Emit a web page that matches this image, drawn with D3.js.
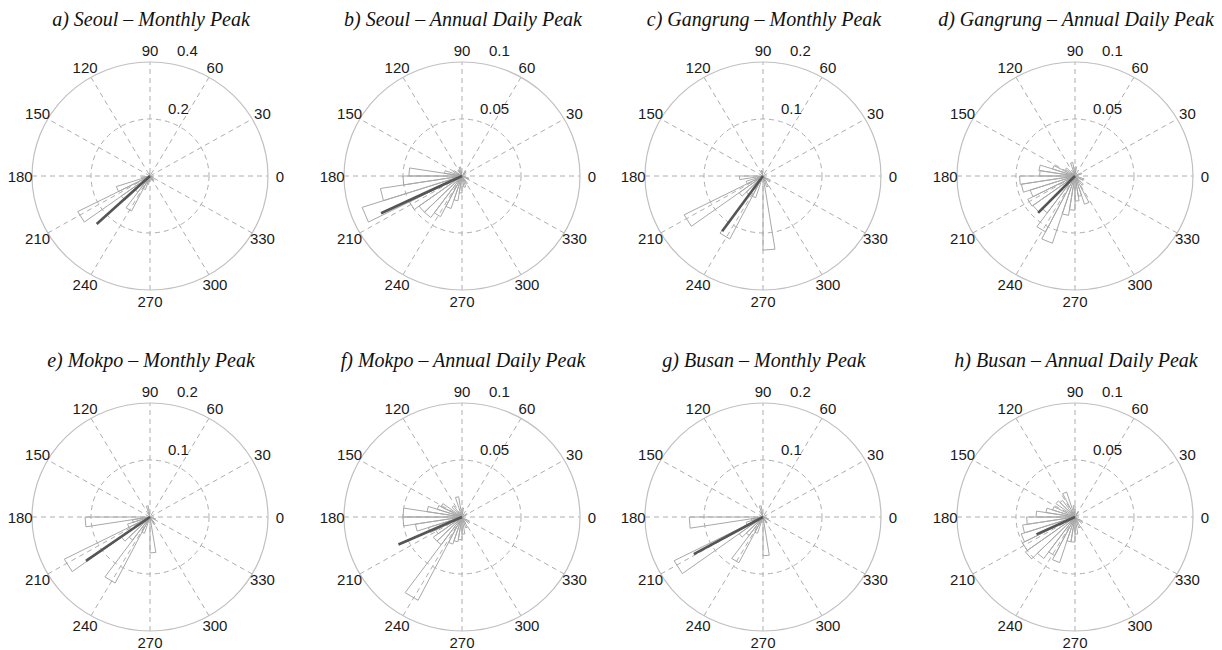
<!DOCTYPE html>
<html>
<head>
<meta charset="utf-8">
<script src="https://cdn.jsdelivr.net/npm/d3@7"></script>
<style>
  body { margin: 0; background: #fff; }
  svg { display: block; }
</style>
</head>
<body>
<script>
// Titres des 8 panneaux
const titles = [
  "a) Seoul – Monthly Peak", "b) Seoul – Annual Daily Peak",
  "c) Gangrung – Monthly Peak", "d) Gangrung – Annual Daily Peak",
  "e) Mokpo – Monthly Peak", "f) Mokpo – Annual Daily Peak",
  "g) Busan – Monthly Peak", "h) Busan – Annual Daily Peak"
]

// Graduations angulaires (degrés)
const angleTicks = [0, 30, 60, 90, 120, 150, 180, 210, 240, 270, 300, 330]

// Graduations radiales par panneau [intérieur, extérieur]
const radialTicks = [
  [0.2, 0.4], [0.05, 0.1], [0.1, 0.2], [0.05, 0.1],
  [0.1, 0.2], [0.05, 0.1], [0.1, 0.2], [0.05, 0.1]
]
const radialLabels = [
  ["0.2", "0.4"], ["0.05", "0.1"], ["0.1", "0.2"], ["0.05", "0.1"],
  ["0.1", "0.2"], ["0.05", "0.1"], ["0.1", "0.2"], ["0.05", "0.1"]
]

// Largeur des classes de la rose (degrés)
const binWidth = 9

// Fréquences par classe : [début de classe (deg), fréquence]
const seoulMonthly = [[90, 0.01], [189, 0.03], [198, 0.12], [207, 0.275], [216, 0.12], [225, 0.07],
  [234, 0.138], [243, 0.05], [252, 0.03], [261, 0.02], [288, 0.015], [306, 0.02], [333, 0.012]]
const seoulDaily = [[45, 0.005], [99, 0.008], [117, 0.006], [144, 0.008], [162, 0.015], [171, 0.045],
  [180, 0.05], [189, 0.07], [198, 0.089], [207, 0.05], [216, 0.045], [225, 0.045], [234, 0.04],
  [243, 0.03], [252, 0.022], [261, 0.015], [279, 0.01], [297, 0.008], [333, 0.006]]
const gangrungMonthly = [[99, 0.01], [180, 0.04], [198, 0.03], [207, 0.15], [216, 0.05], [225, 0.04],
  [234, 0.124], [243, 0.04], [270, 0.13], [288, 0.02], [315, 0.015]]
const gangrungDaily = [[18, 0.006], [81, 0.008], [99, 0.012], [135, 0.01], [153, 0.02], [162, 0.031],
  [171, 0.03], [180, 0.047], [189, 0.046], [198, 0.04], [207, 0.045], [216, 0.044], [225, 0.04],
  [234, 0.055], [243, 0.062], [252, 0.035], [261, 0.03], [270, 0.022], [279, 0.018], [288, 0.026],
  [306, 0.01], [333, 0.008]]
const mokpoMonthly = [[99, 0.02], [180, 0.11], [189, 0.03], [198, 0.04], [207, 0.163], [216, 0.06],
  [225, 0.05], [234, 0.13], [243, 0.03], [270, 0.063], [297, 0.015], [333, 0.01]]
const mokpoDaily = [[27, 0.005], [81, 0.008], [99, 0.018], [126, 0.012], [144, 0.02], [153, 0.022],
  [162, 0.03], [171, 0.05], [180, 0.05], [189, 0.04], [198, 0.03], [207, 0.025], [216, 0.03],
  [225, 0.03], [234, 0.082], [243, 0.025], [252, 0.022], [261, 0.02], [270, 0.015], [288, 0.01],
  [315, 0.008]]
const busanMonthly = [[99, 0.02], [180, 0.125], [189, 0.02], [198, 0.03], [207, 0.169], [216, 0.05],
  [225, 0.04], [234, 0.09], [243, 0.03], [270, 0.068], [297, 0.012], [333, 0.01]]
const busanDaily = [[54, 0.005], [90, 0.01], [108, 0.023], [126, 0.018], [135, 0.02], [153, 0.02],
  [162, 0.025], [171, 0.033], [180, 0.041], [189, 0.045], [198, 0.048], [207, 0.05], [216, 0.052],
  [225, 0.045], [234, 0.038], [243, 0.042], [252, 0.022], [261, 0.022], [270, 0.015], [288, 0.01],
  [315, 0.008]]

// Direction moyenne : [angle (deg), longueur]
const meanDirections = [[223, 0.247], [205.5, 0.076], [234.4, 0.119], [226, 0.045],
  [215.3, 0.133], [204.1, 0.059], [209, 0.134], [205, 0.036]]

const roses = [seoulMonthly, seoulDaily, gangrungMonthly, gangrungDaily,
  mokpoMonthly, mokpoDaily, busanMonthly, busanDaily]

/* ------------------------------------------------------------------------------
    GRAPH
------------------------------------------------------------------------------ */
const W = 1222, H = 650
const centersX = [150, 462, 763, 1075]
const centersY = [176, 517]
const rx = 118, ry = 114

const svg = d3.select("body").append("svg")
  .attr("width", W)
  .attr("height", H)

// Échelle des angles
const theta = d3.scaleLinear().domain([0, 360]).range([0, 2 * Math.PI])

roses.forEach((rose, i) => {
  const cx = centersX[i % 4], cy = centersY[Math.floor(i / 4)]
  const rmax = radialTicks[i][1]
  const r = d3.scaleLinear().domain([0, rmax]).range([0, 1])
  const px = (deg, v) => cx + r(v) * rx * Math.cos(theta(deg))
  const py = (deg, v) => cy - r(v) * ry * Math.sin(theta(deg))

  const g = svg.append("g")

  // Titre
  g.append("text")
    .attr("x", cx + 1)
    .attr("y", cy - 150)
    .attr("text-anchor", "middle")
    .style("font-family", "'Liberation Serif', 'Times New Roman', serif")
    .style("font-style", "italic")
    .style("font-size", "20px")
    .style("fill", "#111")
    .text(titles[i])

  // Rayons pointillés
  g.selectAll(".spoke")
    .data(angleTicks.filter(a => a < 180))
    .join("line")
    .attr("x1", d => px(d + 180, rmax)).attr("y1", d => py(d + 180, rmax))
    .attr("x2", d => px(d, rmax)).attr("y2", d => py(d, rmax))
    .attr("stroke", "#aeaeae")
    .attr("stroke-width", 1)
    .attr("stroke-dasharray", "5,4")

  // Cercle intérieur pointillé
  g.append("ellipse")
    .attr("cx", cx).attr("cy", cy)
    .attr("rx", r(radialTicks[i][0]) * rx).attr("ry", r(radialTicks[i][0]) * ry)
    .attr("fill", "none")
    .attr("stroke", "#aeaeae")
    .attr("stroke-dasharray", "5,4")

  // Cercle extérieur
  g.append("ellipse")
    .attr("cx", cx).attr("cy", cy)
    .attr("rx", rx).attr("ry", ry)
    .attr("fill", "none")
    .attr("stroke", "#c0c0c0")
    .attr("stroke-width", 1.2)

  // Rose
  const line = d3.line()
  g.selectAll(".petal")
    .data(rose)
    .join("path")
    .attr("d", d => line([[cx, cy], [px(d[0], d[1]), py(d[0], d[1])],
      [px(d[0] + binWidth, d[1]), py(d[0] + binWidth, d[1])], [cx, cy]]))
    .attr("fill", "none")
    .attr("stroke", "#a8a8a8")
    .attr("stroke-width", 1)

  // Direction moyenne
  const m = meanDirections[i]
  g.append("line")
    .attr("x1", cx).attr("y1", cy)
    .attr("x2", px(m[0], m[1])).attr("y2", py(m[0], m[1]))
    .attr("stroke", "#555")
    .attr("stroke-width", 2.6)

  // Étiquettes angulaires
  g.selectAll(".alabel")
    .data(angleTicks)
    .join("text")
    .attr("x", d => px(d, rmax * 1.1))
    .attr("y", d => py(d, rmax * 1.1))
    .attr("text-anchor", "middle")
    .attr("dominant-baseline", "central")
    .style("font-family", "'Liberation Sans', Arial, sans-serif")
    .style("font-size", "15px")
    .style("fill", "#1a1a1a")
    .text(d => d)

  // Étiquettes radiales
  g.selectAll(".rlabel")
    .data(radialLabels[i])
    .join("text")
    .attr("x", (d, j) => cx + (j === 0 ? 18 : 27))
    .attr("y", (d, j) => cy + (j === 0 ? -68 : -126))
    .attr("dominant-baseline", "central")
    .style("font-family", "'Liberation Sans', Arial, sans-serif")
    .style("font-size", "15px")
    .style("fill", "#1a1a1a")
    .text(d => d)
})
</script>
</body>
</html>
